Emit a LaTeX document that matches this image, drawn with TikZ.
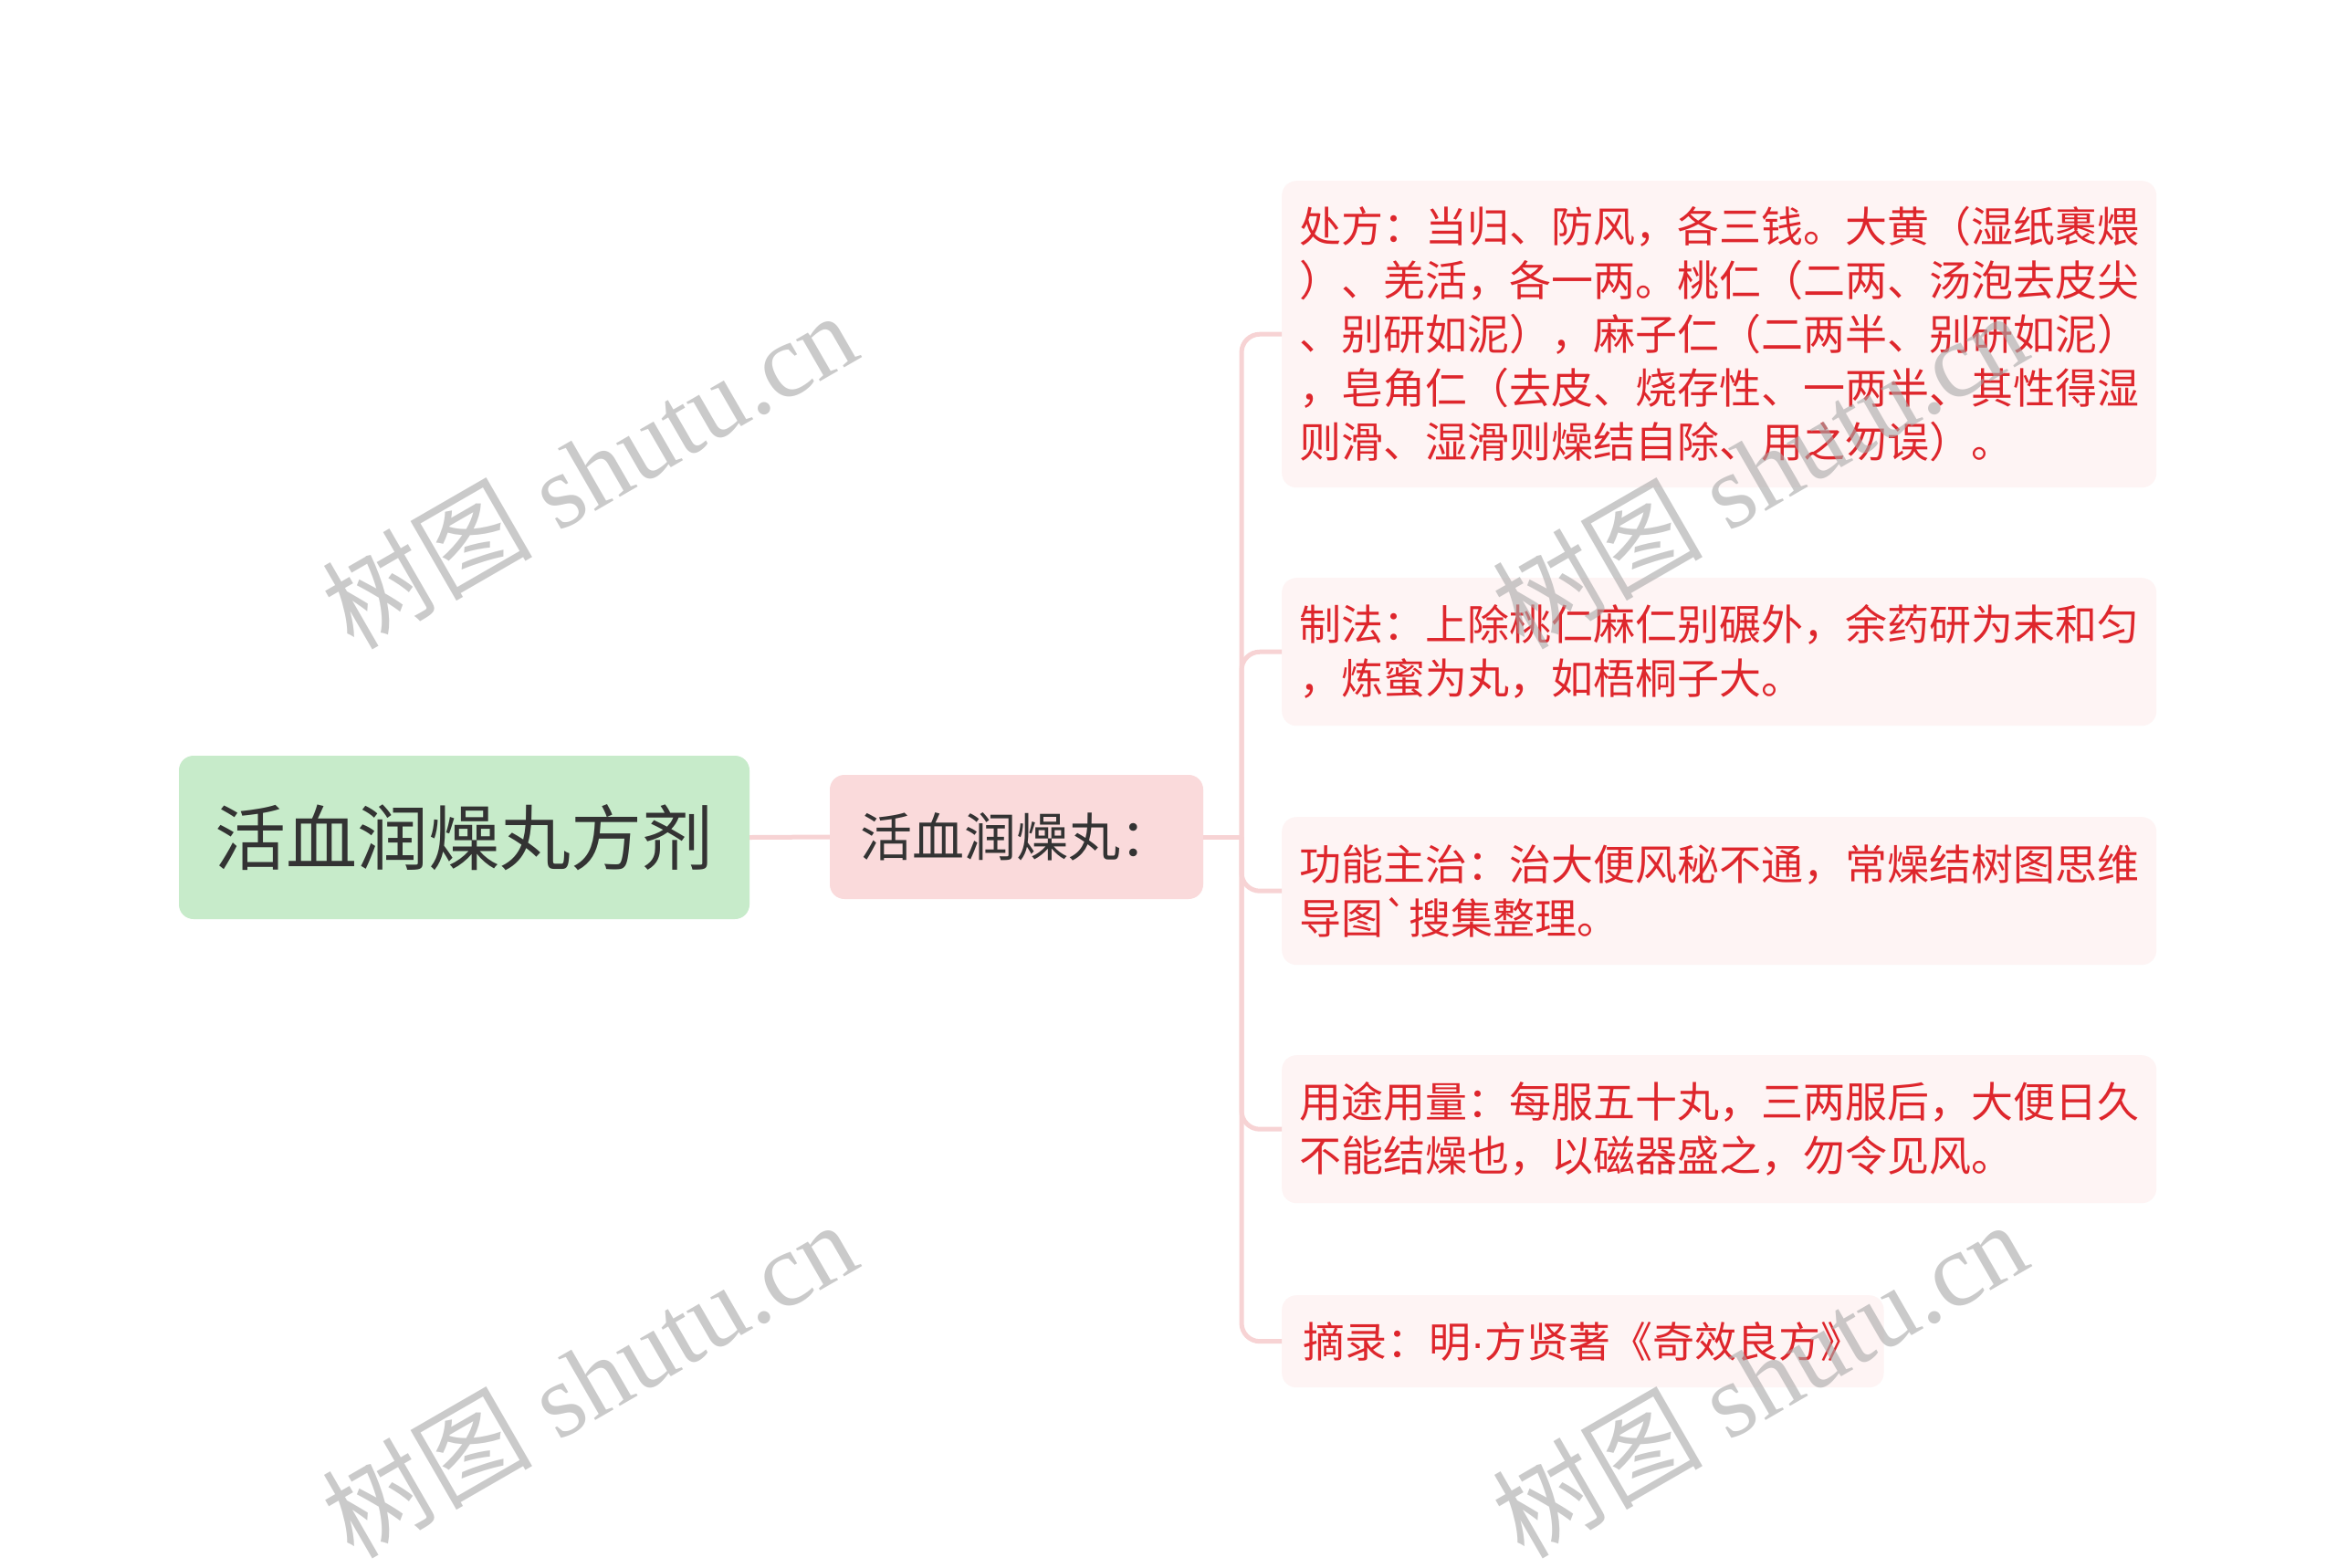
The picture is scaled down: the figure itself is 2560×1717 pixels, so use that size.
\documentclass[tikz,border=0pt]{standalone}
\usepackage{fontspec}
\newfontfamily\cjk{Noto Sans CJK SC}
\newfontfamily\wmlatin{Liberation Serif}
\newfontfamily\latinsans{Liberation Sans}
\definecolor{rootfill}{HTML}{C7EBCA}
\definecolor{childfill}{HTML}{FADADB}
\definecolor{leaffill}{HTML}{FEF4F4}
\definecolor{leaftext}{HTML}{DE262C}
\definecolor{darktext}{HTML}{333333}
\definecolor{connline}{HTML}{F7D3D4}
\definecolor{wmgray}{HTML}{A8A8A8}
\newcommand{\wmtext}{\fontsize{115pt}{120pt}\selectfont{\cjk 树图}\wmlatin\ shutu.cn}
\tikzset{
  rootbox/.style={fill=rootfill, rounded corners=16pt, text=darktext,
    font={\cjk\fontsize{78pt}{90pt}\selectfont}, inner sep=0pt},
  childbox/.style={fill=childfill, rounded corners=16pt, text=darktext,
    font={\cjk\fontsize{57pt}{66pt}\selectfont}, inner sep=0pt},
  leafbox/.style={fill=leaffill, rounded corners=16pt, text=leaftext,
    font={\cjk\fontsize{46pt}{59pt}\selectfont}, inner xsep=19pt, inner ysep=0pt,
    anchor=north west, align=left},
  conn/.style={draw=connline, line width=5pt},
  wm/.style={text=wmgray, opacity=0.6, rotate=30, inner sep=0pt}
}
\begin{document}
\begin{tikzpicture}[x=1pt,y=-1pt]
\useasboundingbox (0,0) rectangle (2560,1717);
\fill[white] (0,0) rectangle (2560,1717);

% nodes
\node[rootbox, minimum width=625pt, minimum height=179pt] (root) at (508.5,917.5) {活血润燥丸方剂};
\node[childbox, minimum width=409pt, minimum height=136pt] (child) at (1113.5,917) {活血润燥丸：};
\coordinate (j) at (1360,917);

\node[leafbox, text width=920pt, minimum height=336pt] (l1) at (1404,198)
  {处方：当归、防风，各三钱。大黄（湿纸裹煨\\）、羌活，各一两。桃仁（二两、汤泡去皮尖\\、别研如泥），麻子仁（二两半、别研如泥）\\，皂角仁（去皮、烧存性、一两半、其性得湿\\则滑、湿滑则燥结自除、用之勿误）。};
\node[leafbox, text width=920pt, minimum height=162pt] (l2) at (1404,633)
  {制法：上除桃仁麻仁别碾外，余药研为末和匀\\，炼蜜为丸，如梧桐子大。};
\node[leafbox, text width=920pt, minimum height=162pt] (l3) at (1404,895)
  {功能主治：治大便风秘不通，常燥结树图思维\\导图`搜集整理。};
\node[leafbox, text width=920pt, minimum height=162pt] (l4) at (1404,1156)
  {用途用量：每服五十丸，三两服后，大便日久\\不能结燥也，以磁器盛之，勿令见风。};
\node[leafbox, inner xsep=23pt, minimum height=101pt] (l5) at (1404,1419)
  {摘录：明{\latinsans ·}方贤著《奇效良方》};

% connectors
\draw[conn] (root.east) -- (child.west);
\draw[conn] (child.east) -- (j);
\foreach \n in {l1,l2,l3,l4,l5}{
  \draw[conn, rounded corners=20pt] (j) |- (\n.west);
}

% watermarks
\node[wm] (w1) at (645,514) {\wmtext};
\node[wm] (w2) at (1927,514) {\wmtext};
\node[wm] (w3) at (645,1510) {\wmtext};
\node[wm] (w4) at (1927,1510) {\wmtext};
\end{tikzpicture}
\end{document}
